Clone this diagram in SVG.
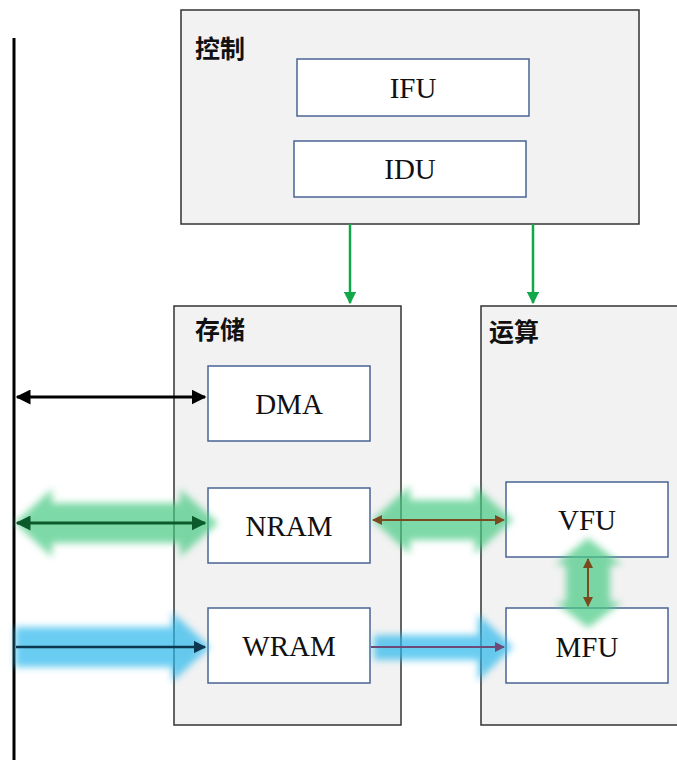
<svg xmlns="http://www.w3.org/2000/svg" width="677" height="760" viewBox="0 0 677 760">
<style>
.grp{fill:#f2f2f2;stroke:#333;stroke-width:1.5}
.unit{fill:#fff;stroke:#4a6496;stroke-width:1.5}
.lbl{font-family:"Liberation Serif",serif;font-size:29px;fill:#111;text-anchor:middle}
.zh{font-family:"Noto Sans CJK SC","Noto Sans",sans-serif;font-size:25px;font-weight:bold;fill:#111}
.glowG{fill:#46c982;opacity:0.7;filter:url(#blur)}
.glowB{fill:#2cb8ec;opacity:0.7;filter:url(#blur)}
</style>
<defs>
<filter id="blur" x="-20%" y="-30%" width="140%" height="160%"><feGaussianBlur stdDeviation="3.5"/></filter>
<marker id="ab" viewBox="0 0 10 10" refX="9" refY="5" markerWidth="5" markerHeight="5" orient="auto-start-reverse"><path d="M0,0L10,5L0,10z" fill="#000"/></marker>
<marker id="ag" viewBox="0 0 10 10" refX="9" refY="5" markerWidth="5" markerHeight="5" orient="auto-start-reverse"><path d="M0,0L10,5L0,10z" fill="#0b5a2c"/></marker>
<marker id="abr" viewBox="0 0 10 10" refX="9" refY="5" markerWidth="5" markerHeight="5" orient="auto-start-reverse"><path d="M0,0L10,5L0,10z" fill="#7a4a1e"/></marker>
<marker id="an" viewBox="0 0 10 10" refX="9" refY="5" markerWidth="5" markerHeight="5" orient="auto-start-reverse"><path d="M0,0L10,5L0,10z" fill="#0d3650"/></marker>
<marker id="ap" viewBox="0 0 10 10" refX="9" refY="5" markerWidth="5" markerHeight="5" orient="auto-start-reverse"><path d="M0,0L10,5L0,10z" fill="#6e4a78"/></marker>
<marker id="agr" viewBox="0 0 10 10" refX="9" refY="5" markerWidth="5" markerHeight="5" orient="auto-start-reverse"><path d="M0,0L10,5L0,10z" fill="#12a84a"/></marker>
</defs>
<rect width="677" height="760" fill="#fff"/>

<g id="ctrl">
<rect class="grp" x="181" y="10" width="458" height="214"/>
<text class="zh" x="195" y="58">控制</text>
</g>
<g id="ifu"><rect class="unit" x="297" y="59" width="232" height="57"/><text class="lbl" x="413" y="98">IFU</text></g>
<g id="idu"><rect class="unit" x="294" y="141" width="232" height="56"/><text class="lbl" x="410" y="179">IDU</text></g>

<g id="storage">
<rect class="grp" x="174" y="306" width="227" height="419"/>
<text class="zh" x="195" y="339">存储</text>
</g>
<g id="compute">
<rect class="grp" x="481" y="306" width="200" height="419"/>
<text class="zh" x="489" y="341">运算</text>
</g>
<g id="dma"><rect class="unit" x="208" y="366" width="162" height="75"/><text class="lbl" x="289" y="414">DMA</text></g>
<g id="nram"><rect class="unit" x="208" y="488" width="162" height="75"/><text class="lbl" x="289" y="536">NRAM</text></g>
<g id="wram"><rect class="unit" x="208" y="608" width="162" height="75"/><text class="lbl" x="289" y="656">WRAM</text></g>
<g id="vfu"><rect class="unit" x="506" y="482" width="162" height="75"/><text class="lbl" x="587" y="530">VFU</text></g>
<g id="mfu"><rect class="unit" x="506" y="608" width="162" height="75"/><text class="lbl" x="587" y="657">MFU</text></g>

<g id="bus"><line x1="14" y1="38" x2="14" y2="760" stroke="#000" stroke-width="3"/></g>

<g id="connectors">
<path class="glowG" d="M15,523 L52,489 L52,503 L180,503 L180,489 L218,523 L180,557 L180,543 L52,543 L52,557 Z"/>
<path class="glowG" d="M372,520 L410,486 L410,500 L475,500 L475,486 L513,520 L475,554 L475,540 L410,540 L410,554 Z"/>
<path class="glowG" d="M588,538 L622,565 L610,565 L610,602 L622,602 L588,628 L555,602 L566,602 L566,565 L555,565 Z"/>
<path class="glowB" d="M15,627 L172,627 L172,612 L210,647 L172,682 L172,667 L15,667 Z"/>
<path class="glowB" d="M374,635 L478,635 L478,614 L513,647 L478,681 L478,660 L374,660 Z"/>
<line x1="350" y1="224" x2="350" y2="303" stroke="#12a84a" stroke-width="2.5" marker-end="url(#agr)"/>
<line x1="533" y1="224" x2="533" y2="303" stroke="#12a84a" stroke-width="2.5" marker-end="url(#agr)"/>
<line x1="17" y1="397" x2="205" y2="397" stroke="#000" stroke-width="3" marker-start="url(#ab)" marker-end="url(#ab)"/>
<line x1="17" y1="523" x2="205" y2="523" stroke="#0b5a2c" stroke-width="3" marker-start="url(#ag)" marker-end="url(#ag)"/>
<line x1="373" y1="520" x2="504" y2="520" stroke="#7a4a1e" stroke-width="2" marker-start="url(#abr)" marker-end="url(#abr)"/>
<line x1="588" y1="559" x2="588" y2="606" stroke="#7a4a1e" stroke-width="2" marker-start="url(#abr)" marker-end="url(#abr)"/>
<line x1="16" y1="647" x2="205" y2="647" stroke="#0d3650" stroke-width="2.5" marker-end="url(#an)"/>
<line x1="371" y1="647" x2="504" y2="647" stroke="#6e4a78" stroke-width="2" marker-end="url(#ap)"/>
</g>
</svg>
